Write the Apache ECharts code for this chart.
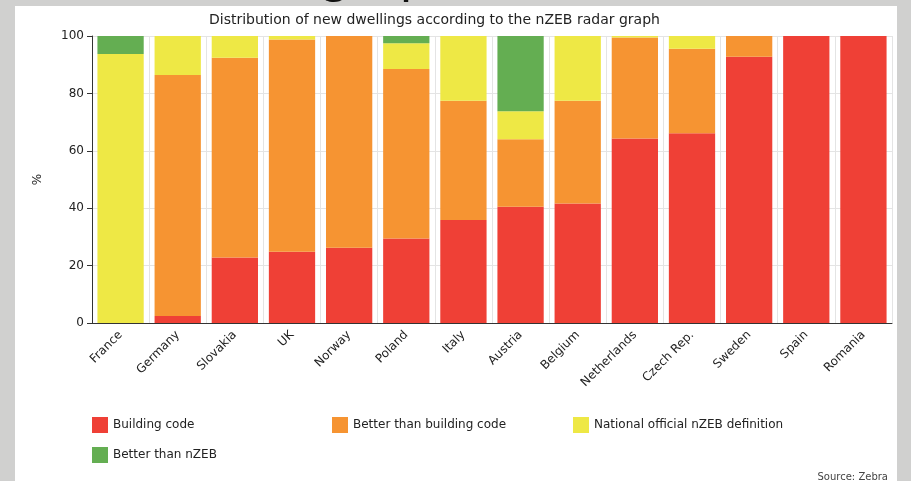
<!DOCTYPE html>
<html>
<head>
<meta charset="utf-8">
<script src="https://cdn.jsdelivr.net/npm/echarts@6/dist/echarts.min.js"></script>
<style>
  html, body { margin: 0; padding: 0; background: #d0d0cf; }
  #chart { width: 911px; height: 481px; }
</style>
</head>
<body>
<div id="chart"></div>
<script>
var countries = ["France", "Germany", "Slovakia", "UK", "Norway", "Poland", "Italy",
  "Austria", "Belgium", "Netherlands", "Czech Rep.", "Sweden", "Spain", "Romania"];

// shares in %, stacked bottom to top
var buildingCode = [0, 2.4, 22.8, 24.8, 26.2, 29.4, 35.9, 40.5, 41.6, 64.3, 66.1, 92.8, 100, 100];
var betterThanCode = [0, 84.0, 69.6, 74.0, 73.8, 59.1, 41.5, 23.5, 35.8, 35.2, 29.5, 7.2, 0, 0];
var nationalDef = [93.7, 13.6, 7.6, 1.2, 0, 9.0, 22.6, 9.8, 22.6, 0.5, 4.4, 0, 0, 0];
var betterThanNzeb = [6.3, 0, 0, 0, 0, 2.5, 0, 26.2, 0, 0, 0, 0, 0, 0];

var yTicks = [0, 20, 40, 60, 80, 100];

var colors = ["#ef4036", "#f69432", "#eee845", "#64ae52"];
var names = ["Building code", "Better than building code",
  "National official nZEB definition", "Better than nZEB"];
var values = [buildingCode, betterThanCode, nationalDef, betterThanNzeb];

var font = "DejaVu Sans, Verdana, sans-serif";

function legendAt(i, left, top) {
  return {
    data: [names[i]],
    left: left,
    top: top,
    icon: "rect",
    itemWidth: 16,
    itemHeight: 16,
    itemGap: 5,
    textStyle: { fontFamily: font, fontSize: 12, color: "#222" },
    selectedMode: false
  };
}

var chart = echarts.init(document.getElementById("chart"));
chart.setOption({
  backgroundColor: "#d0d0cf",
  animation: false,
  color: colors,
  graphic: [
    {
      type: "rect", z: -10, silent: true,
      shape: { x: 15, y: 6, width: 882, height: 480 },
      style: { fill: "#ffffff" }
    },
    {
      // tail of a larger heading cut off by the white panel
      type: "text", silent: true, z: -20,
      style: {
        x: 320, y: 4, text: "graph",
        font: "48px DejaVu Sans", fill: "#111",
        verticalAlign: "bottom"
      }
    },
    {
      type: "text", silent: true,
      style: {
        x: 888, y: 477, text: "Source: Zebra",
        font: "10px DejaVu Sans", fill: "#444",
        align: "right", verticalAlign: "middle"
      }
    }
  ],
  title: {
    text: "Distribution of new dwellings according to the nZEB radar graph",
    left: 204,
    top: 8,
    textStyle: { fontFamily: font, fontSize: 14, fontWeight: "normal", color: "#222" }
  },
  legend: [
    legendAt(0, 87, 412),
    legendAt(1, 327, 412),
    legendAt(2, 568, 412),
    legendAt(3, 87, 442)
  ],
  grid: { left: 92, right: 19, top: 36, bottom: 158 },
  xAxis: {
    type: "category",
    data: countries,
    axisLine: { lineStyle: { color: "#333" } },
    axisTick: { alignWithLabel: true, length: 5, lineStyle: { color: "#333" } },
    axisLabel: { rotate: 45, interval: 0, margin: 10, fontFamily: font, fontSize: 12, color: "#222" },
    splitLine: { show: true, lineStyle: { color: "#e4e4e4" } }
  },
  yAxis: {
    type: "value",
    min: yTicks[0],
    max: yTicks[yTicks.length - 1],
    interval: 20,
    name: "%",
    nameLocation: "middle",
    nameGap: 48,
    nameTextStyle: { fontFamily: font, fontSize: 12, color: "#222" },
    axisLine: { show: true, lineStyle: { color: "#333" } },
    axisTick: { show: true, length: 5, lineStyle: { color: "#333" } },
    axisLabel: { fontFamily: font, fontSize: 12, color: "#222", margin: 8 },
    splitLine: { lineStyle: { color: "#e4e4e4" } }
  },
  series: values.map(function (v, i) {
    return {
      name: names[i],
      type: "bar",
      stack: "total",
      data: v,
      barCategoryGap: "19%",
      itemStyle: { color: colors[i] }
    };
  })
});
</script>
</body>
</html>
